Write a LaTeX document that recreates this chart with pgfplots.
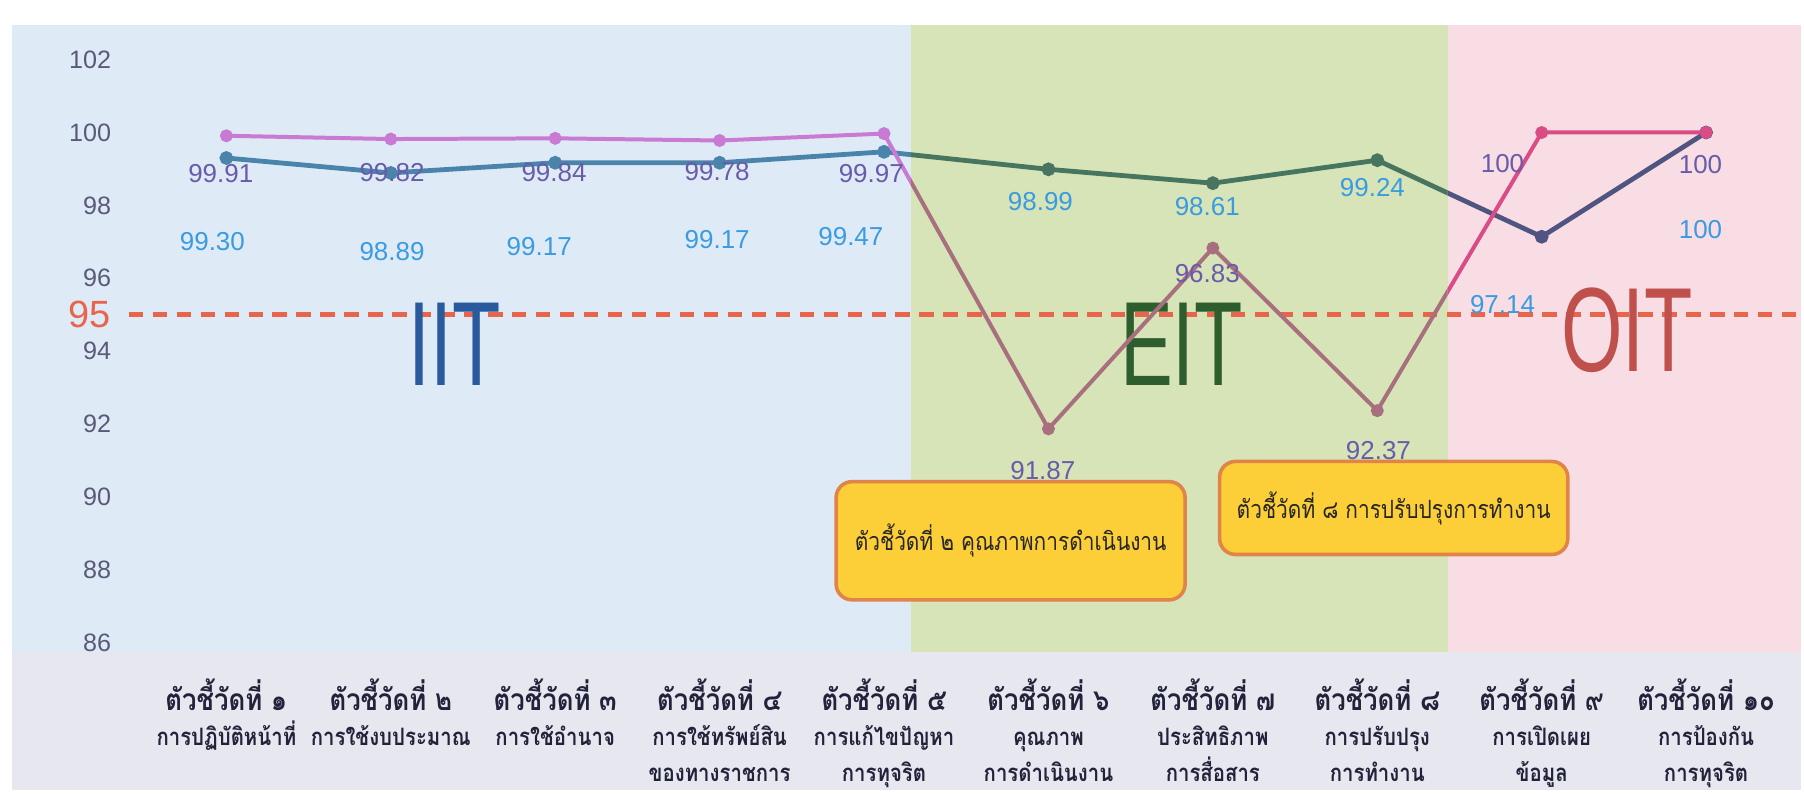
\documentclass[border=0pt]{standalone}
\usepackage{pgfplots}
\pgfplotsset{compat=1.18}
\usepackage{pgfplotstable}
\usepackage{fontspec}
\usepackage{graphicx}
\setmainfont{Liberation Sans}
\newfontfamily\thai[Script=Thai]{Loma}

\definecolor{bandblue}{HTML}{DEEBF6}
\definecolor{bandgreen}{HTML}{D6E4B8}
\definecolor{bandpink}{HTML}{F8DEE4}
\definecolor{greyband}{HTML}{E6E7EF}
\definecolor{ticktext}{HTML}{5A5A78}
\definecolor{redline}{HTML}{E8654B}
\definecolor{labA}{HTML}{3A9BE0}
\definecolor{labB}{HTML}{6A5BAA}
\definecolor{aIIT}{HTML}{4A84AA}
\definecolor{aEIT}{HTML}{477560}
\definecolor{aOIT}{HTML}{4F5580}
\definecolor{bIIT}{HTML}{C97AD2}
\definecolor{bEIT}{HTML}{A8707E}
\definecolor{bOIT}{HTML}{DA4C86}
\definecolor{txtIIT}{HTML}{2A5A9E}
\definecolor{txtEIT}{HTML}{2E5E2E}
\definecolor{txtOIT}{HTML}{C0504C}
\definecolor{boxfill}{HTML}{FCCE38}
\definecolor{boxdraw}{HTML}{E0844A}
\definecolor{xlab}{HTML}{22233A}

% series A: blue labels, series B: purple labels
% dx/dy: label offset from its point (pt)
\pgfplotstableread{
x y dx dy lab
0 99.30 -3.5 -21 99.30
1 98.89 0.3 -19.6 98.89
2 99.17 -4 -21 99.17
3 99.17 -0.6 -19.3 99.17
4 99.47 -8.3 -21.3 99.47
5 98.99 -2 -8.1 98.99
6 98.61 -1.4 -5.8 98.61
7 99.24 -1.2 -6.9 99.24
8 97.14 -9.8 -17 97.14
9 100 -1.4 -24.4 100
}\serA
\pgfplotstableread{
x y dx dy lab
0 99.91 -1.4 -9.5 99.91
1 99.82 0.3 -8.3 99.82
2 99.84 -0.3 -8.6 99.84
3 99.78 -0.6 -7.8 99.78
4 99.97 -3.2 -10.1 99.97
5 91.87 -1.4 -10.4 91.87
6 96.83 -1.4 -6.3 96.83
7 92.37 0.3 -10.1 92.37
8 100 -9.8 -7.8 100
9 100 -1.4 -8.1 100
}\serB

\newcommand{\xl}[3]{\fontsize{6}{8.9}\selectfont\begin{tabular}{@{}c@{}}{\fontsize{7.5}{8.9}\selectfont\scalebox{0.86}[1]{#1}}\\\scalebox{0.85}[1]{#2}\\\scalebox{0.85}[1]{#3}\end{tabular}}

\pgfplotsset{
  region/.style={scale only axis, height=157pt, ymin=85.75, ymax=102.95,
    hide axis, anchor=south west, clip marker paths=true},
  lineA/.style={line width=1.2pt, mark=*, mark size=1.1pt},
  lineB/.style={line width=1pt, mark=*, mark size=1.1pt},
  vallabel/.style={draw=none, mark=none, nodes near coords, point meta=explicit symbolic,
    visualization depends on={\thisrow{dx} \as \dx},
    visualization depends on={\thisrow{dy} \as \dy},
    nodes near coords style={anchor=center, xshift=\dx pt, yshift=\dy pt,
      font=\fontsize{6.5}{7}\selectfont, text=#1}},
}

\begin{document}
\begin{tikzpicture}
% frame: bands, ticks, threshold, group names
\begin{axis}[
  scale only axis, width=448.1pt, height=157pt,
  at={(0pt,0pt)}, anchor=south west,
  xmin=-1.304, xmax=9.58, ymin=85.75, ymax=102.95,
  clip=false, axis on top,
  axis line style={draw=none},
  tick style={draw=none},
  ytick={86,88,...,102},
  yticklabel style={font=\fontsize{6.3}{7}\selectfont, text=ticktext, anchor=east,
    inner sep=0pt, xshift=25pt, /pgf/number format/assume math mode=true},
  extra y ticks={95}, extra y tick labels={95},
  extra y tick style={yticklabel style={font=\fontsize{9.5}{10}\selectfont, text=redline}},
  xtick={0,...,9},
  xticklabels={
    {\xl{ตัวชี้วัดที่ ๑}{การปฏิบัติหน้าที่}{}},
    {\xl{ตัวชี้วัดที่ ๒}{การใช้งบประมาณ}{}},
    {\xl{ตัวชี้วัดที่ ๓}{การใช้อำนาจ}{}},
    {\xl{ตัวชี้วัดที่ ๔}{การใช้ทรัพย์สิน}{ของทางราชการ}},
    {\xl{ตัวชี้วัดที่ ๕}{การแก้ไขปัญหา}{การทุจริต}},
    {\xl{ตัวชี้วัดที่ ๖}{คุณภาพ}{การดำเนินงาน}},
    {\xl{ตัวชี้วัดที่ ๗}{ประสิทธิภาพ}{การสื่อสาร}},
    {\xl{ตัวชี้วัดที่ ๘}{การปรับปรุง}{การทำงาน}},
    {\xl{ตัวชี้วัดที่ ๙}{การเปิดเผย}{ข้อมูล}},
    {\xl{ตัวชี้วัดที่ ๑๐}{การป้องกัน}{การทุจริต}}},
  xticklabel style={font=\thai\bfseries, text=xlab, anchor=north, inner sep=0pt, yshift=-6.4pt},
]
\fill[bandblue] (axis cs:-1.304,85.75) rectangle (axis cs:4.165,102.95);
\fill[bandgreen] (axis cs:4.165,85.75) rectangle (axis cs:7.428,102.95);
\fill[bandpink] (axis cs:7.428,85.75) rectangle (axis cs:9.58,102.95);
\fill[greyband] (axis cs:-1.304,85.75) rectangle ([yshift=-34.5pt]axis cs:9.58,85.75);
\draw[redline, line width=1.3pt, dash pattern=on 3.6pt off 2.4pt]
  (axis cs:-0.594,95) -- (axis cs:9.58,95);
\node[text=txtIIT, font=\fontsize{30}{30}\selectfont] at (axis cs:1.39,94.19) {\scalebox{0.66}[1]{IIT}};
\node[text=txtEIT, font=\fontsize{30}{30}\selectfont] at (axis cs:5.81,94.19) {\scalebox{0.66}[1]{EIT}};
\node[text=txtOIT, font=\fontsize{30}{30}\selectfont] at (axis cs:8.52,94.57) {\scalebox{0.66}[1]{OIT}};
\end{axis}

% lines, coloured by band
\begin{axis}[region, at={(0pt,0pt)}, width=225.16pt, xmin=-1.304, xmax=4.165]
\addplot[lineA, color=aIIT] table[x=x, y=y] {\serA};
\addplot[lineB, color=bIIT] table[x=x, y=y] {\serB};
\end{axis}
\begin{axis}[region, at={(225.16pt,0pt)}, width=134.34pt, xmin=4.165, xmax=7.428]
\addplot[lineA, color=aEIT] table[x=x, y=y] {\serA};
\addplot[lineB, color=bEIT] table[x=x, y=y] {\serB};
\end{axis}
\begin{axis}[region, at={(359.5pt,0pt)}, width=88.6pt, xmin=7.428, xmax=9.58]
\addplot[lineA, color=aOIT] table[x=x, y=y] {\serA};
\addplot[lineB, color=bOIT] table[x=x, y=y] {\serB};
\end{axis}

% value labels and call-out boxes
\begin{axis}[
  scale only axis, width=448.1pt, height=157pt,
  at={(0pt,0pt)}, anchor=south west,
  xmin=-1.304, xmax=9.58, ymin=85.75, ymax=102.95,
  clip=false, hide axis,
]
\addplot[vallabel=labA] table[x=x, y=y, meta=lab] {\serA};
\addplot[vallabel=labB] table[x=x, y=y, meta=lab] {\serB};
\node[draw=boxdraw, fill=boxfill, line width=0.9pt, rounded corners=4pt,
  minimum width=87.4pt, minimum height=29.6pt, inner sep=0pt,
  font=\thai\fontsize{6.3}{7}\selectfont, text=black!85]
  at (axis cs:4.77,88.80) {\scalebox{0.83}[1]{ตัวชี้วัดที่ ๒ คุณภาพการดำเนินงาน}};
\node[draw=boxdraw, fill=boxfill, line width=0.9pt, rounded corners=4pt,
  minimum width=87.2pt, minimum height=23.3pt, inner sep=0pt,
  font=\thai\fontsize{6.3}{7}\selectfont, text=black!85]
  at (axis cs:7.10,89.70) {\scalebox{0.83}[1]{ตัวชี้วัดที่ ๘ การปรับปรุงการทำงาน}};
\end{axis}

\path (-3pt,-35.5pt) rectangle (448.1pt,163.25pt);
\end{tikzpicture}
\end{document}
